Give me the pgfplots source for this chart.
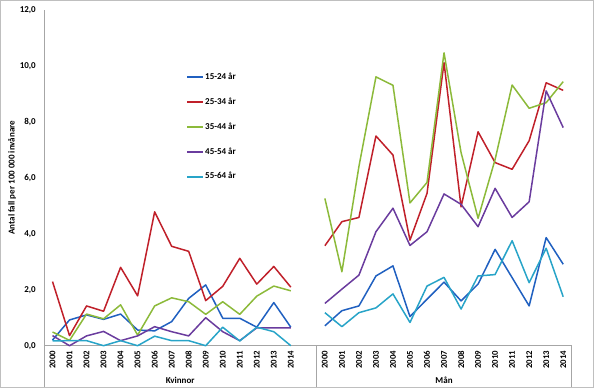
\documentclass[border=0pt]{standalone}
\usepackage{fontspec}
\setmainfont{Carlito}
\usepackage{pgfplots}
\usepackage{pgfplotstable}
\pgfplotsset{compat=1.18}
\definecolor{cblue}{HTML}{2060C0}
\definecolor{cred}{HTML}{C0202A}
\definecolor{cgreen}{HTML}{8CBA3A}
\definecolor{cpurple}{HTML}{6A3C9E}
\definecolor{ccyan}{HTML}{28A4C8}
\definecolor{axgray}{HTML}{A6A6A6}
\definecolor{framegray}{HTML}{BFBFBF}

\pgfplotstableread{
x a b c d e
0 0.20 2.29 0.49 0.36 0.17
1 0.92 0.36 0.19 0.00 0.18
2 1.10 1.42 1.13 0.35 0.18
3 0.94 1.23 0.96 0.51 0.00
4 1.13 2.80 1.46 0.18 0.18
5 0.56 1.78 0.38 0.35 0.00
6 0.53 4.78 1.42 0.68 0.34
7 0.86 3.55 1.71 0.50 0.18
8 1.69 3.37 1.57 0.35 0.18
9 2.17 1.61 1.12 1.00 0.00
10 0.98 2.12 1.57 0.50 0.66
11 0.98 3.12 1.12 0.18 0.17
12 0.66 2.20 1.77 0.64 0.66
13 1.54 2.83 2.13 0.64 0.50
14 0.66 2.09 1.96 0.64 0.00
15 nan nan nan nan nan
16 0.71 3.57 5.26 1.51 1.18
17 1.25 4.43 2.64 2.02 0.68
18 1.42 4.58 6.40 2.52 1.18
19 2.49 7.49 9.60 4.07 1.35
20 2.85 6.81 9.30 4.91 1.85
21 1.04 3.77 5.10 3.58 0.83
22 1.66 5.44 5.83 4.07 2.13
23 2.27 10.11 10.46 5.42 2.44
24 1.60 4.96 6.90 5.05 1.31
25 2.20 7.64 4.55 4.25 2.49
26 3.44 6.54 6.65 5.62 2.54
27 2.43 6.30 9.31 4.58 3.75
28 1.42 7.32 8.48 5.14 2.25
29 3.86 9.39 8.68 9.10 3.48
30 2.91 9.12 9.43 7.79 1.75
}\data

\begin{document}
\begin{tikzpicture}[x=1pt,y=1pt]
\useasboundingbox (0,0) rectangle (594,388);
\draw[framegray, line width=0.8pt] (0.5,0.5) rectangle (593.5,387.5);
\begin{axis}[
  at={(44pt,42.3pt)}, anchor=south west, scale only axis,
  width=527.7pt, height=336pt,
  xmin=-0.5, xmax=30.5, ymin=0, ymax=12,
  clip=false,
  unbounded coords=jump,
  axis x line*=bottom, axis y line*=left,
  axis line style={draw=axgray, line width=0.8pt, -},
  major tick length=0pt,
  xtick={0,1,2,3,4,5,6,7,8,9,10,11,12,13,14,16,17,18,19,20,21,22,23,24,25,26,27,28,29,30},
  xticklabels={2000,2001,2002,2003,2004,2005,2006,2007,2008,2009,2010,2011,2012,2013,2014,2000,2001,2002,2003,2004,2005,2006,2007,2008,2009,2010,2011,2012,2013,2014},
  xticklabel style={yshift=-5pt, rotate=90, anchor=east, inner sep=0pt, font=\fontsize{8.8}{10}\selectfont\bfseries},
  ytick={0,2,4,6,8,10,12},
  yticklabel style={/pgf/number format/.cd, fixed, fixed zerofill, precision=1, use comma, assume math mode=true, /tikz/.cd, anchor=east, inner sep=0pt, xshift=-8pt, font=\fontsize{9}{10}\selectfont\bfseries},
  ylabel={Antal fall per 100 000 invånare},
  every axis y label/.style={at={(axis description cs:0,0.5)}, xshift=-32pt, rotate=90, anchor=center, font=\fontsize{9}{10}\selectfont\bfseries},
  legend style={at={(rel axis cs:0.2691,0.651)}, anchor=west, draw=none, fill=none, inner sep=0pt, row sep=17.3pt, column sep=1pt, font=\fontsize{9}{10}\selectfont\bfseries, nodes={inner sep=0pt, text height=6pt, text depth=1.5pt}},
  legend cell align=left,
  legend image code/.code={\draw[#1, line width=2pt] (0pt,0pt) -- (16pt,0pt);},
  every axis plot/.append style={line width=1.5pt, no markers, line join=round},
]
\addplot[cblue] table[x=x, y=a] {\data};
\addplot[cred] table[x=x, y=b] {\data};
\addplot[cgreen] table[x=x, y=c] {\data};
\addplot[cpurple] table[x=x, y=d] {\data};
\addplot[ccyan] table[x=x, y=e] {\data};
\legend{15-24 år, 25-34 år, 35-44 år, 45-54 år, 55-64 år}
\draw[axgray, line width=0.8pt] (axis cs:-0.5,0) -- ++(0pt,-41.5pt);
\draw[axgray, line width=0.8pt] (axis cs:15.5,0) -- ++(0pt,-41.5pt);
\draw[axgray, line width=0.8pt] (axis cs:30.5,0) -- ++(0pt,-41.5pt);
\node[yshift=-35pt, font=\fontsize{9}{10}\selectfont\bfseries] at (axis cs:7.5,0) {Kvinnor};
\node[yshift=-35pt, font=\fontsize{9}{10}\selectfont\bfseries] at (axis cs:23,0) {Mån};
\end{axis}
\end{tikzpicture}
\end{document}
